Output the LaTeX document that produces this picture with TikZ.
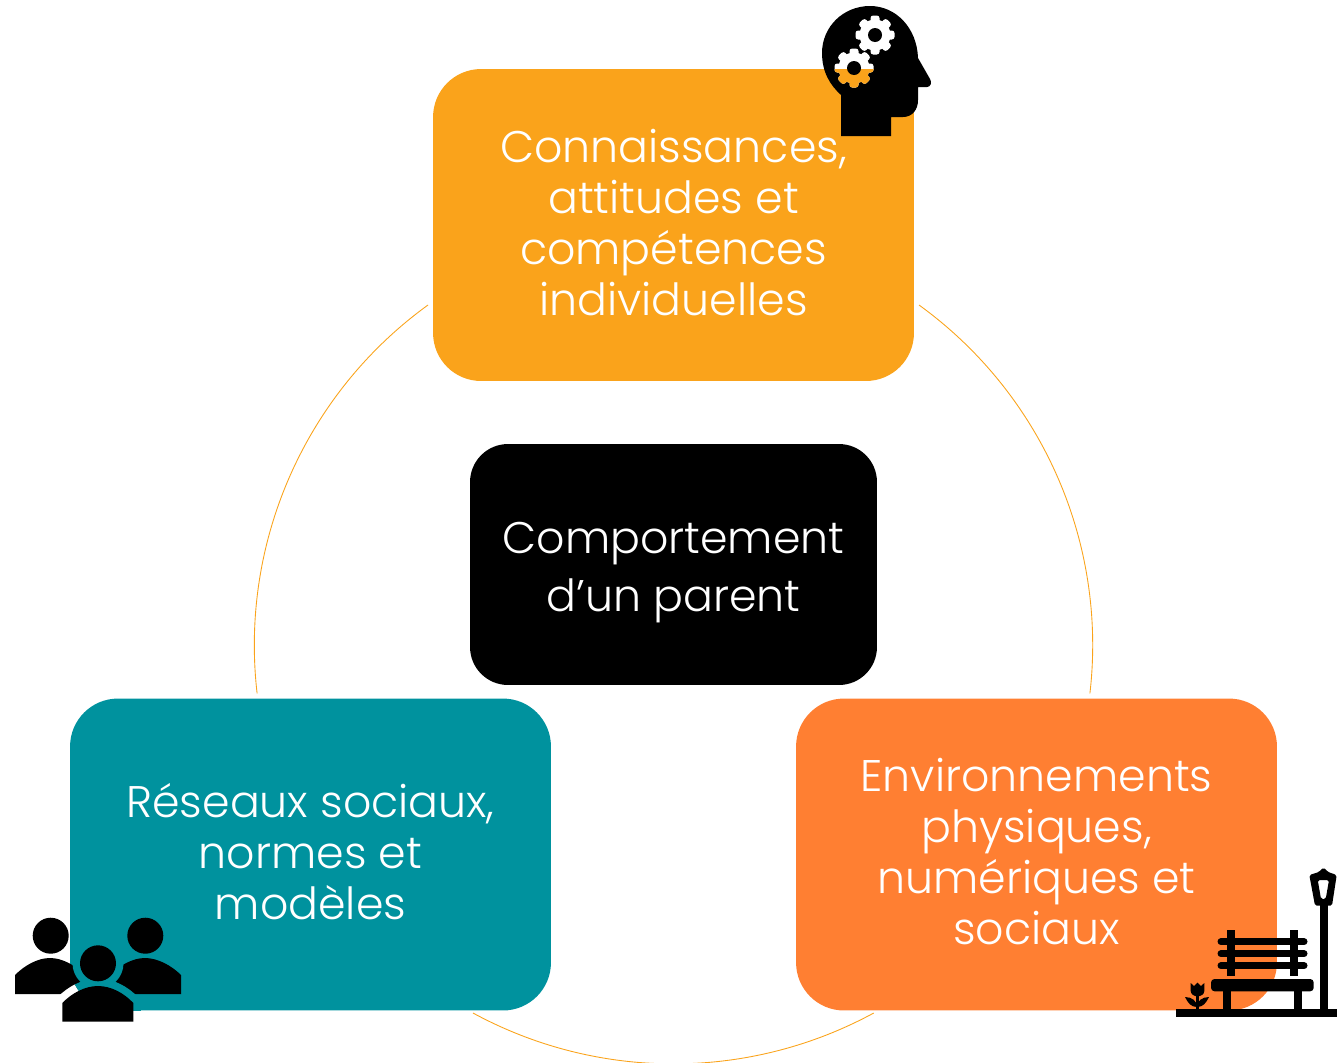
\documentclass[tikz,border=0pt]{standalone}
\usepackage{fontspec}
\setmainfont{Poppins}[UprightFont=* Light]
\definecolor{jaune}{RGB}{250,163,27}
\definecolor{sarcelle}{RGB}{0,146,158}
\definecolor{orange2}{RGB}{255,127,50}
\tikzset{
	boite/.style={minimum width=9.62cm,minimum height=6.24cm,rounded corners=0.96cm,inner sep=0pt,text=white,align=center,text depth=3.4pt,font=\fontsize{25.2}{29}\selectfont},
	cercle/.style={jaune,line width=0.5pt},
	gear/.pic={
		\fill (0,0) circle(15.5);
		\foreach \a in {0,45,...,315}
			\fill[rotate=\a,rounded corners=1.5pt] (-4.5,-19.5) rectangle (4.5,0);
	}
}
\newcommand{\corpsmilieu}{(62.3,1021.7) -- (62.3,1003) .. controls (72,993) and (85,986) .. (98,986) .. controls (111,986) and (124,993) .. (133.3,1003) -- (133.3,1021.7) -- cycle}
\begin{document}
\begin{tikzpicture}[x=0.02cm,y=-0.02cm]
	\useasboundingbox (0,0) rectangle (1337,1062);
	% Le grand cercle
	\draw[cercle] (919,305) arc[start angle=54.1,end angle=-6.6,radius=8.4cm];
	\draw[cercle] (428,305) arc[start angle=125.9,end angle=186.6,radius=8.4cm];
	\draw[cercle] (473,1013) arc[start angle=241.5,end angle=298.5,radius=8.4cm];
	% Les boites
	\node[boite,fill=jaune] (connaissances) at (673.5,225) {Connaissances,\\attitudes et\\compétences\\individuelles};
	\node[boite,fill=sarcelle] (reseaux) at (310.5,854.5) {Réseaux sociaux,\\normes et\\modèles};
	\node[boite,fill=orange2] (environnements) at (1036.5,854.5) {Environnements\\physiques,\\numériques et\\sociaux};
	\node[boite,fill=black,minimum width=8.14cm,minimum height=4.82cm,rounded corners=0.76cm,text depth=0pt,text height=54pt,font=\fontsize{25.2}{33}\selectfont] (comportement) at (673.5,564.5) {Comportement\\d’un parent};
	% La tete
	\fill (918,58) .. controls (917,28) and (896,6) .. (870,6)
		.. controls (843,6) and (822,27) .. (822,53)
		.. controls (822,72) and (830,85) .. (841,95)
		-- (841,136) -- (891,136) -- (891,117) -- (903,117)
		.. controls (912,117) and (918,110) .. (918,100)
		-- (918,87) -- (927,87)
		.. controls (931,87) and (932,82) .. (930,79) -- cycle;
	% Les engrenages
	\pic[white] at (875,35) {gear};
	\pic[white] at (854,68) {gear};
	\begin{scope}
		\clip (830,69) rectangle (880,95);
		\pic[jaune] at (854,68) {gear};
	\end{scope}
	\fill (875,35) circle(7);
	\fill (854,68) circle(7);
	% Les personnes
	\fill (50.7,935.7) circle(18);
	\fill (145.3,935.7) circle(18);
	\fill (15,994) -- (15,975) .. controls (25,965) and (38,958) .. (50,958) .. controls (62,958) and (75,965) .. (85,975) -- (85,994) -- cycle;
	\fill (110,994) -- (110,975) .. controls (120,965) and (133,958) .. (145,958) .. controls (157,958) and (171,965) .. (181,975) -- (181,994) -- cycle;
	% Le halo autour de la personne du milieu
	\begin{scope}[even odd rule]
		\clip[rounded corners=0.96cm] (0,900) rectangle (300,1062) (reseaux.south west) rectangle (reseaux.north east);
		\draw[white,fill=white,line width=0.3cm,line join=round] \corpsmilieu;
		\fill[white] (98,963.3) circle(25.5);
	\end{scope}
	\begin{scope}
		\clip[rounded corners=0.96cm] (reseaux.south west) rectangle (reseaux.north east);
		\draw[sarcelle,fill=sarcelle,line width=0.3cm,line join=round] \corpsmilieu;
		\fill[sarcelle] (98,963.3) circle(25.5);
	\end{scope}
	\fill (98,963.3) circle(18);
	\fill \corpsmilieu;
	% Le banc et le lampadaire
	\fill (1175.7,1009) rectangle (1337,1017);
	\fill (1320,905) rectangle (1327.7,1010);
	\fill[even odd rule,rounded corners=1pt] (1323.3,867.3) -- (1328,872) -- (1336.7,875) -- (1332,905.7) -- (1315,905.7) -- (1309.3,875) -- (1319,872) -- cycle
		(1317.7,880) -- (1329,880) -- (1325.7,899) -- (1321,899) -- cycle;
	\foreach \y in {941.7,953.7,965.7}
		\draw[line width=0.14cm,line cap=round] (1221,\y) -- (1304,\y);
	\fill (1227,930) rectangle (1235,975.7);
	\fill (1290,930) rectangle (1298,975.7);
	\fill[rounded corners=2pt] (1211,979) rectangle (1313.7,991.3);
	\fill (1223,991) rectangle (1231,1010);
	\fill (1294.3,991) rectangle (1302.3,1010);
	% La fleur
	\fill (1196,996) rectangle (1198.7,1010);
	\fill (1190.7,983) -- (1194,986) -- (1197.5,982.7) -- (1201,986) -- (1204.3,983) -- (1204.3,991) .. controls (1204,998) and (1191,998) .. (1190.7,991) -- cycle;
	\fill (1185,997) .. controls (1192,997) and (1197,1001) .. (1197,1007) .. controls (1191,1007) and (1188,1003) .. (1185,997) -- cycle;
	\fill (1209,997) .. controls (1202,997) and (1197,1001) .. (1197,1007) .. controls (1203,1007) and (1206,1003) .. (1209,997) -- cycle;
\end{tikzpicture}
\end{document}
